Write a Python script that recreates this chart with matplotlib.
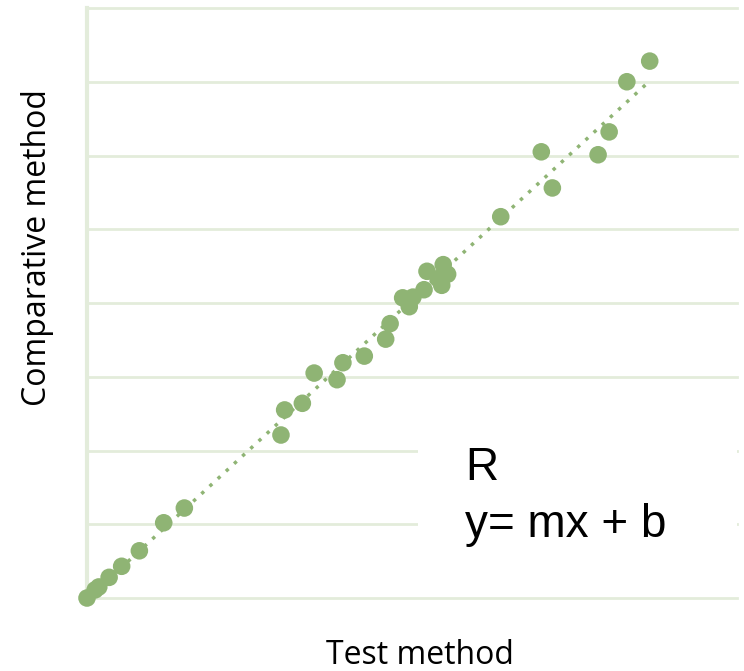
import matplotlib.pyplot as plt
import numpy as np
from matplotlib.patches import Rectangle

# method comparison: test method vs comparative method
test_vals = [0.00, 0.11, 0.16, 0.30, 0.47, 0.71, 1.04, 1.32, 2.63, 2.68,
             2.92, 3.08, 3.39, 3.47, 3.76, 4.05, 4.11, 4.28, 4.37, 4.42,
             4.57, 4.61, 4.76, 4.81, 4.83, 4.89, 5.61, 6.16, 6.31, 6.93,
             7.08, 7.32, 7.63]
comp_vals = [0.00, 0.11, 0.15, 0.28, 0.43, 0.64, 1.02, 1.22, 2.21, 2.55,
             2.64, 3.05, 2.96, 3.19, 3.28, 3.51, 3.72, 4.07, 3.95, 4.08,
             4.18, 4.43, 4.33, 4.24, 4.52, 4.39, 5.17, 6.05, 5.56, 6.01,
             6.32, 7.00, 7.28]

green = '#8fb474'
grid_green = '#e3ecdb'

x = np.array(test_vals)
y = np.array(comp_vals)
m, b = np.polyfit(x, y, 1)

fig = plt.figure(figsize=(7.44, 6.71), dpi=100)
ax = fig.add_axes([87 / 744, 73 / 671, 650 / 744, 590 / 671])
ax.set_xlim(0, 650 / 73.75)
ax.set_ylim(0, 8)

for yy in range(0, 9):
    ax.axhline(yy, color=grid_green, lw=2, zorder=1, clip_on=False)

# white panel behind the annotation
ax.add_patch(Rectangle((331 / 650, 0.04), 1, 0.28,
                       transform=ax.transAxes, facecolor='white',
                       edgecolor='none', zorder=2))

xs = np.array([x.min(), x.max()])
ax.plot(xs, m * xs + b, linestyle=(0, (1, 2.2)), lw=2.5, color=green,
        zorder=3, clip_on=False)
ax.scatter(x, y, s=160, color=green, edgecolors='none',
           zorder=4, clip_on=False)

for side in ['top', 'right', 'bottom']:
    ax.spines[side].set_visible(False)
ax.spines['left'].set_color(grid_green)
ax.spines['left'].set_linewidth(3)
ax.set_xticks([])
ax.set_yticks([])

fig.text(465 / 744, 1 - 480 / 671, 'R',
         fontsize=33, family='Liberation Sans', va='baseline')
fig.text(465 / 744, 1 - 537 / 671, 'y= mx + b',
         fontsize=33, family='Liberation Sans', va='baseline')

fig.text(420 / 744, 1 - 655 / 671, 'Test method', ha='center', va='center',
         fontsize=23, family='Open Sans')
fig.text(38 / 744, 1 - 248 / 671, 'Comparative method', ha='center',
         va='center', rotation=90, fontsize=23, family='Open Sans')

fig.savefig('out.png', dpi=100)
